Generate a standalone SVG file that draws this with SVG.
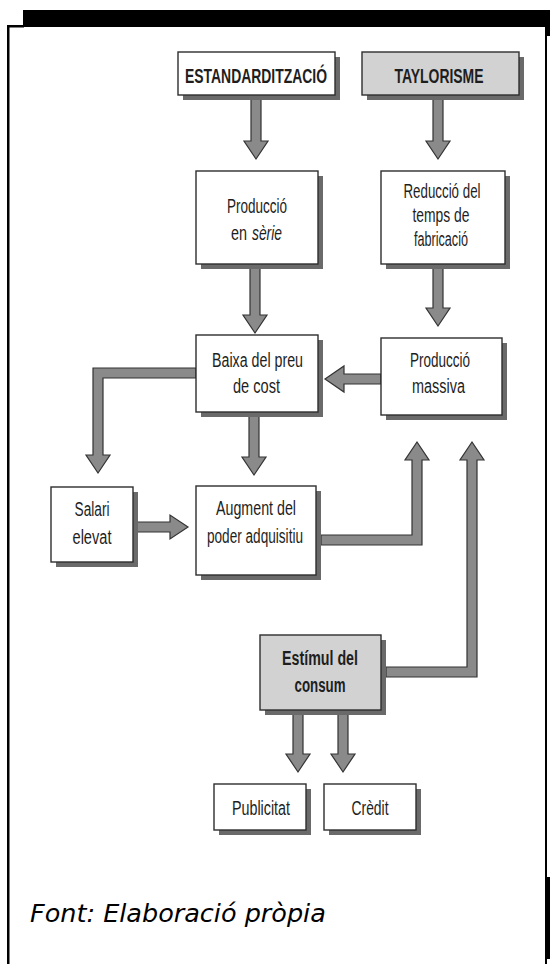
<svg xmlns="http://www.w3.org/2000/svg" width="550" height="964" viewBox="0 0 550 964">
<style>
.frame{fill:#000}
.box{fill:#fff;stroke:#2e2e2e;stroke-width:1.4}
.gray{fill:#d2d2d2}
.sh{fill:#6a6a6a}
.arr{fill:#8a8a8a;stroke:#333;stroke-width:1.2;stroke-linejoin:miter}
.t{font-family:"Liberation Sans",Arial,sans-serif;font-size:20px;fill:#1e1e1e;text-anchor:middle}
.s{text-anchor:start}
.e{text-anchor:end}
.h{font-weight:bold;font-size:20px}
.src{font-family:"DejaVu Sans",sans-serif;font-style:italic;font-size:25.5px;fill:#000}
</style>
<rect width="550" height="964" fill="#fff"/>
<g id="frame">
<rect class="frame" x="23" y="10" width="527" height="17"/>
<rect class="frame" x="545" y="10" width="5" height="26"/>
<rect class="frame" x="7" y="25" width="17" height="2.5"/>
<rect class="frame" x="7" y="25" width="2.5" height="939"/>
<rect class="frame" x="545" y="27" width="2" height="937"/>
<rect class="frame" x="545" y="877" width="5" height="82"/>
</g>
<g id="connectors">
<polygon class="arr" points="251,98 261,98 261,141 268,141 256,159 244,141 251,141"/>
<polygon class="arr" points="433,98 443,98 443,141 450,141 438,159 426,141 433,141"/>
<polygon class="arr" points="250,268 260,268 260,315 267,315 255,333 243,315 250,315"/>
<polygon class="arr" points="433,268 443,268 443,308 450,308 438,326 426,308 433,308"/>
<polygon class="arr" points="381,374 344,374 344,366 325,379 344,392 344,384 381,384"/>
<polygon class="arr" points="196,368 93,368 93,455 86,455 98,473 110,455 103,455 103,378 196,378"/>
<polygon class="arr" points="249,416 259,416 259,457 266,457 254,475 242,457 249,457"/>
<polygon class="arr" points="137,522 170,522 170,515 188,527 170,539 170,532 137,532"/>
<polygon class="arr" points="321,535 412,535 412,460 405,460 417,442 429,460 422,460 422,545 321,545"/>
<polygon class="arr" points="386,667 467,667 467,460 460,460 472,442 484,460 477,460 477,677 386,677"/>
<polygon class="arr" points="293,714 303,714 303,754 310,754 298,772 286,754 293,754"/>
<polygon class="arr" points="338,714 348,714 348,754 355,754 343,772 331,754 338,754"/>
</g>
<g id="estandarditzacio">
<rect class="sh" x="183" y="57" width="157" height="43"/>
<rect class="box" x="178" y="52" width="157" height="43"/>
<text class="t h" x="256" y="83" textLength="142" lengthAdjust="spacingAndGlyphs">ESTANDARDITZACIÓ</text>
</g>
<g id="taylorisme">
<rect class="sh" x="367" y="57" width="157" height="43"/>
<rect class="box gray" x="362" y="52" width="157" height="43"/>
<text class="t h" x="439" y="83" textLength="89" lengthAdjust="spacingAndGlyphs">TAYLORISME</text>
</g>
<g id="produccio-serie">
<rect class="sh" x="201" y="176" width="122" height="93"/>
<rect class="box" x="196" y="171" width="122" height="93"/>
<text class="t" x="257" y="213" textLength="60" lengthAdjust="spacingAndGlyphs">Producció</text>
<text class="t e" x="247" y="240" textLength="16" lengthAdjust="spacingAndGlyphs">en</text>
<text class="t s" x="252" y="240" textLength="30" lengthAdjust="spacingAndGlyphs" font-style="italic">sèrie</text>
</g>
<g id="reduccio">
<rect class="sh" x="386" y="176" width="124" height="93"/>
<rect class="box" x="381" y="171" width="124" height="93"/>
<text class="t" x="442" y="198" textLength="77" lengthAdjust="spacingAndGlyphs">Reducció del</text>
<text class="t" x="441" y="222" textLength="57" lengthAdjust="spacingAndGlyphs">temps de</text>
<text class="t" x="441" y="246" textLength="54" lengthAdjust="spacingAndGlyphs">fabricació</text>
</g>
<g id="baixa-preu">
<rect class="sh" x="201" y="340" width="122" height="77"/>
<rect class="box" x="196" y="335" width="122" height="77"/>
<text class="t" x="257.5" y="367" textLength="91" lengthAdjust="spacingAndGlyphs">Baixa del preu</text>
<text class="t" x="256.5" y="393" textLength="47" lengthAdjust="spacingAndGlyphs">de cost</text>
</g>
<g id="produccio-massiva">
<rect class="sh" x="386" y="343" width="121" height="77"/>
<rect class="box" x="381" y="338" width="121" height="77"/>
<text class="t" x="440" y="367" textLength="60" lengthAdjust="spacingAndGlyphs">Producció</text>
<text class="t" x="438.5" y="393" textLength="53" lengthAdjust="spacingAndGlyphs">massiva</text>
</g>
<g id="salari-elevat">
<rect class="sh" x="56" y="492" width="82" height="75"/>
<rect class="box" x="51" y="487" width="82" height="75"/>
<text class="t" x="92" y="516" textLength="35" lengthAdjust="spacingAndGlyphs">Salari</text>
<text class="t" x="92" y="544" textLength="39" lengthAdjust="spacingAndGlyphs">elevat</text>
</g>
<g id="augment">
<rect class="sh" x="201" y="491" width="120" height="89"/>
<rect class="box" x="196" y="486" width="120" height="89"/>
<text class="t" x="256" y="515" textLength="80" lengthAdjust="spacingAndGlyphs">Augment del</text>
<text class="t" x="255" y="543" textLength="96" lengthAdjust="spacingAndGlyphs">poder adquisitiu</text>
</g>
<g id="estimul">
<rect class="sh" x="265" y="640" width="121" height="75"/>
<rect class="box gray" x="260" y="635" width="121" height="75"/>
<text class="t h" x="320" y="665" textLength="76" lengthAdjust="spacingAndGlyphs">Estímul del</text>
<text class="t h" x="320" y="692" textLength="51" lengthAdjust="spacingAndGlyphs">consum</text>
</g>
<g id="publicitat">
<rect class="sh" x="219" y="789" width="92" height="46"/>
<rect class="box" x="214" y="784" width="92" height="46"/>
<text class="t" x="261" y="815" textLength="58" lengthAdjust="spacingAndGlyphs">Publicitat</text>
</g>
<g id="credit">
<rect class="sh" x="329" y="789" width="92" height="46"/>
<rect class="box" x="324" y="784" width="92" height="46"/>
<text class="t" x="370" y="815" textLength="37" lengthAdjust="spacingAndGlyphs">Crèdit</text>
</g>
<text class="src" x="30" y="922">Font: Elaboració pròpia</text>
</svg>
